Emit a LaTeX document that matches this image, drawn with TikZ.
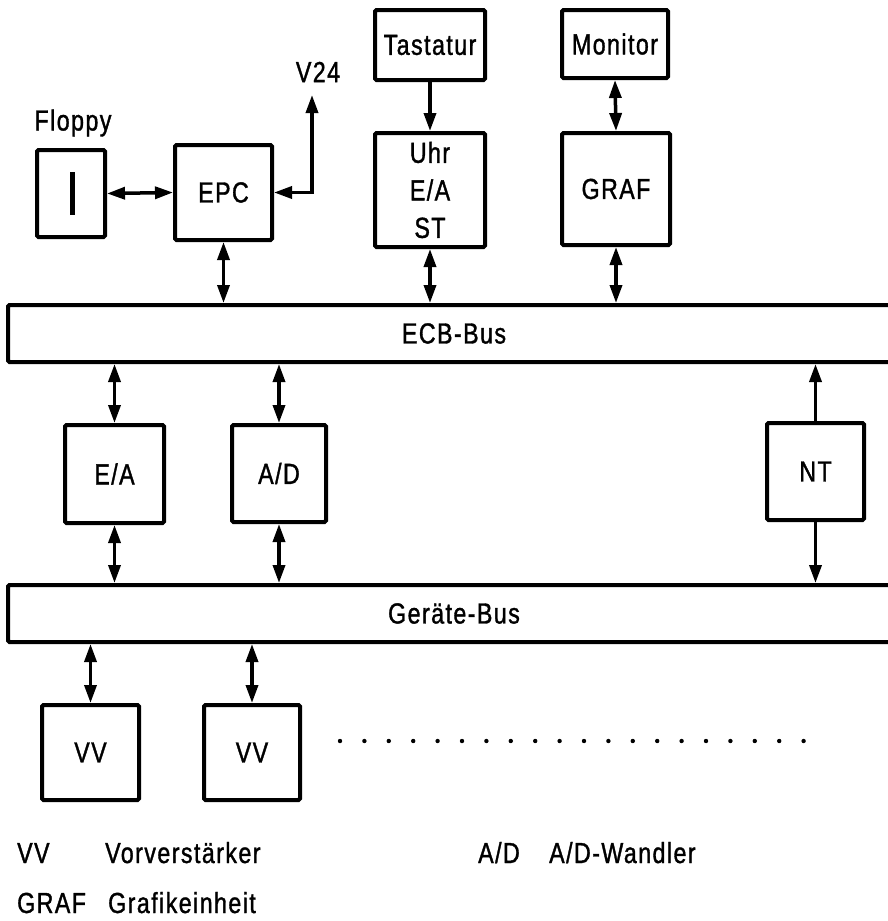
\documentclass[tikz,border=0pt]{standalone}
\usepackage{fontspec}
\setmainfont{Liberation Sans}[FakeStretch=0.8,LetterSpace=5,FakeBold=1.2]
\usetikzlibrary{arrows.meta}
\begin{document}
\begin{tikzpicture}[x=1pt,y=-1pt,
  box/.style={draw,line width=4pt,rounded corners=1.5pt,inner sep=0pt,font=\fontsize{29}{33}\selectfont},
  lab/.style={inner sep=0pt,font=\fontsize{29}{33}\selectfont},
  tip/.tip={Triangle[length=18pt,width=12pt]},
  conn/.style={line width=3.5pt},
  dbl/.style={conn,tip-tip},
  one/.style={conn,-tip},
]
\clip (0,0) rectangle (888,921);
\fill[white] (0,0) rectangle (888,921);

% top row
\node[lab] (flab) at (73,123) {Floppy};
\node[box,minimum width=68pt,minimum height=87pt] (floppy) at (71,193.5) {};
\draw[line width=5pt] (72,172) -- (72,215);
\node[box,minimum width=97pt,minimum height=95pt] (epc) at (223.5,192.5) {EPC};
\node[lab] (v24lab) at (318,72) {V24};
\coordinate (v24) at (312,95);
\node[box,minimum width=110pt,minimum height=70pt] (tast) at (430,45) {Tastatur};
\node[box,minimum width=110pt,minimum height=114pt,align=center,font=\fontsize{29}{37.5}\selectfont] (uhr) at (430,190) {Uhr\\E/A\\ST};
\node[box,minimum width=106pt,minimum height=68pt] (mon) at (615,44) {Monitor};
\node[box,minimum width=108pt,minimum height=112pt] (graf) at (616,189) {GRAF};

% buses
\node[box,minimum width=892pt,minimum height=57pt] (ecb) at (454,333.5) {ECB-Bus};
\node[box,minimum width=892pt,minimum height=57pt] (geraete) at (454,613.5) {Geräte-Bus};

% middle row
\node[box,minimum width=99pt,minimum height=98pt] (ea) at (114.5,474) {E/A};
\node[box,minimum width=94pt,minimum height=97pt] (ad) at (279,473.5) {A/D};
\node[box,minimum width=97pt,minimum height=97pt] (nt) at (815.5,471.5) {NT};

% bottom row
\node[box,minimum width=97pt,minimum height=95pt] (vv1) at (90.5,752.5) {VV};
\node[box,minimum width=96pt,minimum height=95pt] (vv2) at (252,752.5) {VV};
\foreach \i in {0,...,19} \fill (340+24.4*\i,741) circle (2.2pt);

% connectors
\draw[dbl] (floppy.east) -- (epc.west);
\draw[dbl] (epc.east) -| (v24);
\draw[dbl] (epc.south) -- (epc.south |- ecb.north);
\draw[one] (tast.south) -- (uhr.north);
\draw[dbl] (uhr.south) -- (uhr.south |- ecb.north);
\draw[dbl] (mon.south) -- (graf.north);
\draw[dbl] (graf.south) -- (graf.south |- ecb.north);
\draw[dbl] (ea.north |- ecb.south) -- (ea.north);
\draw[dbl] (ea.south) -- (ea.south |- geraete.north);
\draw[dbl] (ad.north |- ecb.south) -- (ad.north);
\draw[dbl] (ad.south) -- (ad.south |- geraete.north);
\draw[one] (nt.north) -- (nt.north |- ecb.south);
\draw[one] (nt.south) -- (nt.south |- geraete.north);
\draw[dbl] (vv1.north |- geraete.south) -- (vv1.north);
\draw[dbl] (vv2.north |- geraete.south) -- (vv2.north);

% legend
\node[lab,anchor=base west] (l1) at (17,863) {VV};
\node[lab,anchor=base west] (l2) at (105,863) {Vorverstärker};
\node[lab,anchor=base west] (l3) at (478,863) {A/D};
\node[lab,anchor=base west] (l4) at (549,863) {A/D-Wandler};
\node[lab,anchor=base west] (l5) at (17,913) {GRAF};
\node[lab,anchor=base west] (l6) at (108,913) {Grafikeinheit};
\end{tikzpicture}
\end{document}
